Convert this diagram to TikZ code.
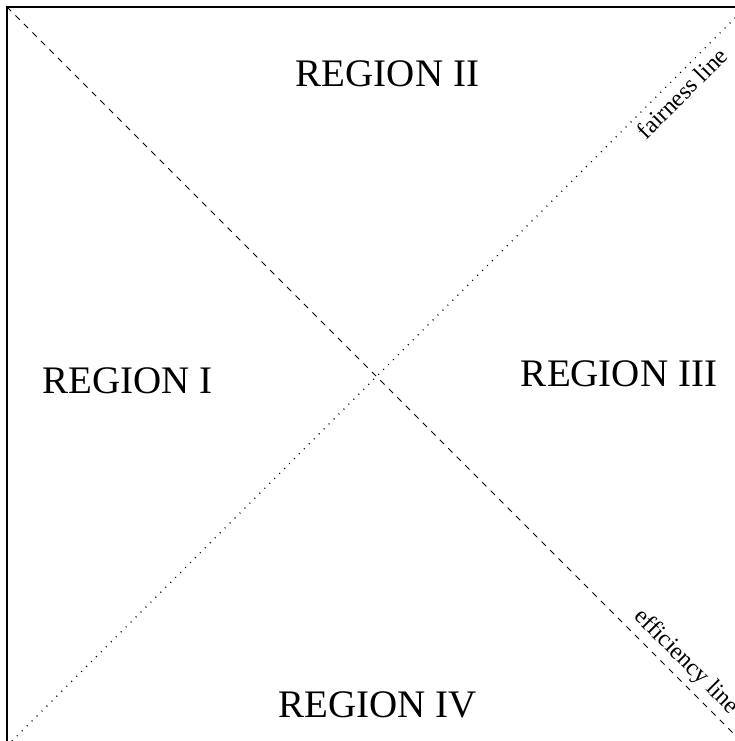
\documentclass[tikz,border=0pt]{standalone}
\usepackage{fontspec}
\setmainfont{Liberation Serif}
\begin{document}
\begin{tikzpicture}[x=1pt,y=-1pt,
  frame/.style={line width=1.3pt},
  effline/.style={line width=0.9pt,dash pattern=on 6pt off 6pt},
  fairline/.style={line width=1.3pt,dash pattern=on 1pt off 6pt},
  region/.style={font=\fontsize{39}{44}\selectfont,anchor=base,inner sep=0pt},
  linelabel/.style={font=\fontsize{24}{28}\selectfont,inner sep=0pt}]
\useasboundingbox (0,0) rectangle (735,741);
\clip (0,0) rectangle (735,741);
\coordinate (tl) at (7,7);
\coordinate (tr) at (746,7);
\coordinate (bl) at (7,746);
\coordinate (br) at (746,746);
\draw[frame] (bl) -- (tl) -- (tr) -- (br) -- cycle;
\draw[effline] (tl) -- (br);
\draw[fairline] (bl) -- (tr);
\node[region] (r2) at (387.5,87) {REGION II};
\node[region] (r1) at (127.5,393) {REGION I};
\node[region] (r3) at (619,386) {REGION III};
\node[region] (r4) at (377.5,717) {REGION IV};
\node[linelabel,rotate=45] (fl) at (682,93) {fairness line};
\node[linelabel,rotate=-45] (el) at (686,662) {efficiency line};
\end{tikzpicture}
\end{document}
